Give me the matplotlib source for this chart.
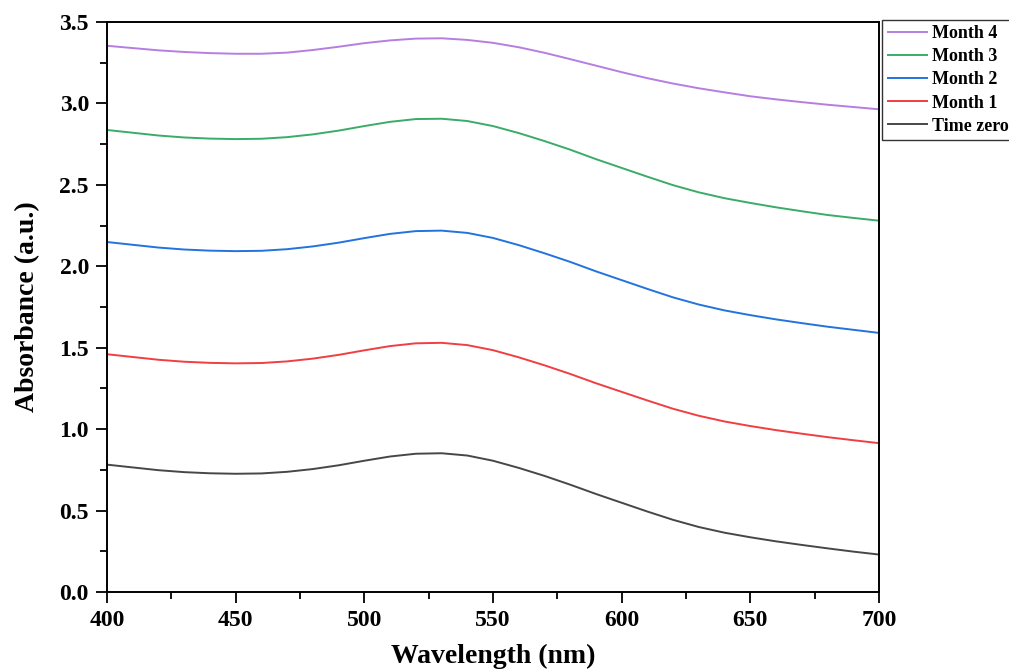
import matplotlib
matplotlib.use("Agg")
import matplotlib.pyplot as plt
from matplotlib.ticker import MultipleLocator

# --- absorbance spectra (10 nm steps) ---
wavelength = list(range(400, 701, 10))

time_zero = [0.782, 0.765, 0.748, 0.736, 0.729, 0.726, 0.728, 0.738, 0.755, 0.778,
             0.806, 0.832, 0.849, 0.852, 0.838, 0.806, 0.762, 0.713, 0.659, 0.602,
             0.548, 0.494, 0.443, 0.399, 0.364, 0.336, 0.311, 0.289, 0.268, 0.248, 0.230]
month1 = [1.460, 1.443, 1.426, 1.414, 1.407, 1.404, 1.406, 1.416, 1.433, 1.456,
          1.484, 1.510, 1.527, 1.530, 1.516, 1.485, 1.441, 1.392, 1.339, 1.282,
          1.229, 1.176, 1.125, 1.082, 1.047, 1.019, 0.994, 0.972, 0.951, 0.932, 0.914]
month2 = [2.149, 2.132, 2.115, 2.103, 2.096, 2.093, 2.095, 2.105, 2.122, 2.145,
          2.173, 2.199, 2.216, 2.219, 2.205, 2.174, 2.130, 2.080, 2.027, 1.969,
          1.915, 1.861, 1.809, 1.765, 1.729, 1.700, 1.674, 1.651, 1.629, 1.610, 1.591]
month3 = [2.837, 2.820, 2.803, 2.791, 2.784, 2.781, 2.783, 2.793, 2.810, 2.833,
          2.861, 2.887, 2.904, 2.906, 2.892, 2.861, 2.818, 2.769, 2.716, 2.658,
          2.604, 2.550, 2.498, 2.454, 2.418, 2.389, 2.362, 2.338, 2.315, 2.297, 2.280]
month4 = [3.354, 3.340, 3.326, 3.316, 3.309, 3.305, 3.305, 3.312, 3.328, 3.348,
          3.370, 3.387, 3.398, 3.400, 3.390, 3.372, 3.345, 3.311, 3.272, 3.232,
          3.192, 3.155, 3.122, 3.093, 3.068, 3.044, 3.025, 3.008, 2.992, 2.978, 2.964]

series = [("Month 4", month4, "#b57ee0"),
          ("Month 3", month3, "#3aac68"),
          ("Month 2", month2, "#2373de"),
          ("Month 1", month1, "#f03e42"),
          ("Time zero", time_zero, "#474747")]

plt.rcParams["font.family"] = ["Liberation Serif", "DejaVu Serif"]
plt.rcParams["font.weight"] = "bold"

fig = plt.figure(figsize=(10.09, 6.70), dpi=100)
ax = fig.add_axes([107 / 1009, 78 / 670, 772 / 1009, 570 / 670])

for label, vals, color in series:
    ax.plot(wavelength, vals, color=color, lw=1.4, label=label)

ax.set_xlim(400, 700)
ax.set_ylim(0, 3.5)
ax.xaxis.set_major_locator(MultipleLocator(50))
ax.xaxis.set_minor_locator(MultipleLocator(25))
ax.yaxis.set_major_locator(MultipleLocator(0.5))
ax.yaxis.set_minor_locator(MultipleLocator(0.25))
ax.yaxis.set_major_formatter(plt.FormatStrFormatter("%.1f"))
ax.tick_params(which="major", direction="out", length=8, width=1.3, labelsize=17, pad=5)
ax.tick_params(which="minor", direction="out", length=5, width=1.3)
for s in ax.spines.values():
    s.set_linewidth(1.4)

ax.set_xlabel("Wavelength (nm)", fontsize=20, fontweight="bold", labelpad=9)
ax.set_ylabel("Absorbance (a.u.)", fontsize=20, fontweight="bold", labelpad=14)

leg = ax.legend(loc="upper left", bbox_to_anchor=(1.004, 1.004), borderaxespad=0,
                fontsize=13, frameon=True, fancybox=False, handlelength=2.2,
                handletextpad=0.25, labelspacing=0.34, borderpad=0.3)
leg.get_frame().set_edgecolor("black")
leg.get_frame().set_linewidth(1.0)
for t in leg.get_texts():
    t.set_fontweight("bold")

fig.savefig("out.png", dpi=100)
